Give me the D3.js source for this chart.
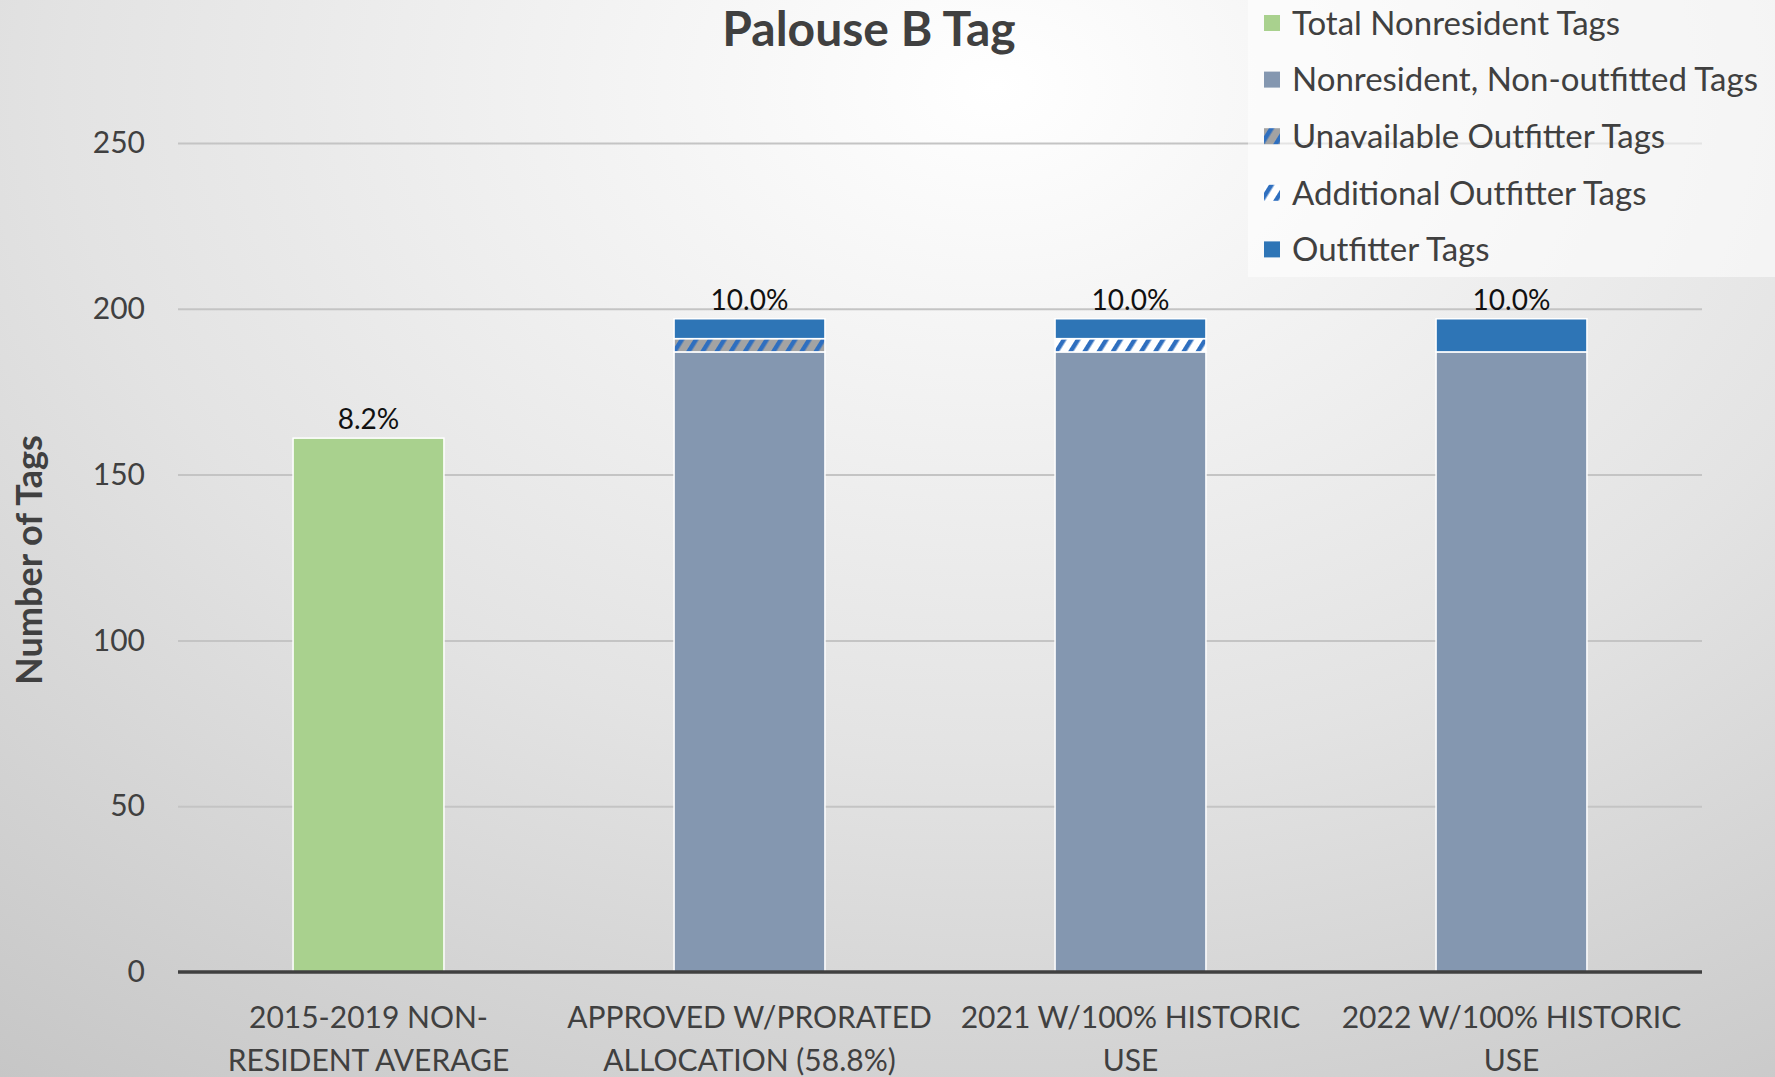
<!DOCTYPE html>
<html>
<head>
<meta charset="utf-8">
<script src="https://cdn.jsdelivr.net/npm/d3@7"></script>
<style>
  body { margin: 0; overflow: hidden; }
  svg { display: block; font-family: Lato, "Open Sans", sans-serif; }
</style>
</head>
<body>
<svg width="1775" height="1077"></svg>
<script>
var categories = [
  ["2015-2019 NON-", "RESIDENT AVERAGE"],
  ["APPROVED W/PRORATED", "ALLOCATION (58.8%)"],
  ["2021 W/100% HISTORIC", "USE"],
  ["2022 W/100% HISTORIC", "USE"]
];
var totalNonresident = [161, 0, 0, 0];
var nonOutfitted = [0, 187, 187, 187];
var unavailableOutfitter = [0, 4, 0, 0];
var additionalOutfitter = [0, 0, 4, 0];
var outfitterTags = [0, 6, 6, 10];
var pctLabels = ["8.2%", "10.0%", "10.0%", "10.0%"];
var yTicks = [0, 50, 100, 150, 200, 250];
var seriesNames = ["Total Nonresident Tags", "Nonresident, Non-outfitted Tags",
  "Unavailable Outfitter Tags", "Additional Outfitter Tags", "Outfitter Tags"];

var svg = d3.select('svg');
var width = +svg.attr('width');
var height = +svg.attr('height');

var plotLeft = 178, plotRight = 1702, plotTop = 143, plotBottom = 972;

// background
var defs = svg.append('defs');
var bg = defs.append('radialGradient').attr('id', 'bg')
  .attr('cx', '0.56').attr('cy', '0.08').attr('r', '0.95')
  .attr('gradientTransform', 'translate(0.56,0.08) scale(1,1.2) translate(-0.56,-0.08)');
bg.append('stop').attr('offset', '0').attr('stop-color', '#ffffff');
bg.append('stop').attr('offset', '0.55').attr('stop-color', '#e3e3e3');
bg.append('stop').attr('offset', '1').attr('stop-color', '#c6c6c6');
svg.append('rect').attr('width', width).attr('height', height).attr('fill', 'url(#bg)');

function hatch(id, back) {
  var p = defs.append('pattern').attr('id', id)
    .attr('patternUnits', 'userSpaceOnUse')
    .attr('width', 12).attr('height', 12)
    .attr('patternTransform', 'rotate(32)');
  p.append('rect').attr('width', 12).attr('height', 12).attr('fill', back);
  p.append('rect').attr('width', 4.5).attr('height', 12).attr('fill', '#2f6fbf');
}
hatch('hatchGray', '#a3a3a3');
hatch('hatchWhite', '#ffffff');

var colors = ['#a9d18e', '#8497b0', 'url(#hatchGray)', 'url(#hatchWhite)', '#2e75b6'];

var rows = categories.map(function(c, i) {
  return {
    i: i,
    s0: totalNonresident[i],
    s1: nonOutfitted[i],
    s2: unavailableOutfitter[i],
    s3: additionalOutfitter[i],
    s4: outfitterTags[i]
  };
});
var keys = ['s0', 's1', 's2', 's3', 's4'];
var stacked = d3.stack().keys(keys)(rows);

var x = d3.scaleBand()
  .domain(d3.range(categories.length))
  .range([plotLeft, plotRight])
  .paddingInner(0.604)
  .paddingOuter(0.302);
var y = d3.scaleLinear().domain([0, 250]).range([plotBottom, plotTop]);

// grid + y labels
var yAxis = svg.append('g').attr('transform', 'translate(' + plotLeft + ',0)')
  .call(d3.axisLeft(y).tickValues(yTicks).tickSize(-(plotRight - plotLeft)).tickPadding(33));
yAxis.select('.domain').remove();
yAxis.selectAll('.tick line').attr('stroke', '#c4c4c4').attr('stroke-width', 2);
yAxis.selectAll('.tick line').filter(function(d) { return d === 0; }).remove();
yAxis.selectAll('.tick text').attr('fill', '#404040').style('font-size', '30px')
  .style('font-family', 'Lato');

// bars
svg.append('g').selectAll('g')
  .data(stacked)
  .enter().append('g')
  .attr('fill', function(d, k) { return colors[k]; })
  .selectAll('rect')
  .data(function(d) { return d.filter(function(v) { return v[1] - v[0] > 0; }); })
  .enter().append('rect')
  .attr('x', function(d) { return x(d.data.i); })
  .attr('y', function(d) { return y(d[1]); })
  .attr('width', x.bandwidth())
  .attr('height', function(d) { return y(d[0]) - y(d[1]); })
  .attr('stroke', '#ffffff')
  .attr('stroke-width', 1.5);

// zero axis
svg.append('line').attr('x1', plotLeft).attr('x2', plotRight)
  .attr('y1', y(0)).attr('y2', y(0))
  .attr('stroke', '#404040').attr('stroke-width', 3.5);

// percent labels
svg.append('g').selectAll('text')
  .data(rows)
  .enter().append('text')
  .attr('x', function(d) { return x(d.i) + x.bandwidth() / 2; })
  .attr('y', function(d) { return y(d.s0 + d.s1 + d.s2 + d.s3 + d.s4) - 9; })
  .attr('text-anchor', 'middle')
  .attr('fill', '#111')
  .style('font-size', '28px')
  .text(function(d, i) { return pctLabels[i]; });

// category labels
var xAxis = svg.append('g').attr('transform', 'translate(0,' + plotBottom + ')')
  .call(d3.axisBottom(x).tickSize(0).tickFormat(''));
xAxis.select('.domain').remove();
xAxis.selectAll('.tick text').each(function(d) {
  var t = d3.select(this).attr('y', 0).attr('dy', null)
    .attr('fill', '#404040').style('font-size', '30px').style('font-family', 'Lato');
  categories[d].forEach(function(line, j) {
    t.append('tspan').attr('x', 0).attr('y', 56 + j * 43).text(line);
  });
});

// y title
svg.append('text')
  .attr('transform', 'translate(42,' + 560 + ') rotate(-90)')
  .attr('text-anchor', 'middle')
  .attr('fill', '#404040')
  .style('font-size', '36px').style('font-weight', 'bold')
  .text('Number of Tags');

// title
svg.append('text')
  .attr('x', 869).attr('y', 46)
  .attr('text-anchor', 'middle')
  .attr('fill', '#404040')
  .style('font-size', '48px').style('font-weight', 'bold')
  .text('Palouse B Tag');

// legend
var legend = svg.append('g');
legend.append('rect').attr('x', 1248).attr('y', 0).attr('width', width - 1248).attr('height', 277)
  .attr('fill', '#ffffff').attr('opacity', 0.55);
var item = legend.selectAll('g.item')
  .data(seriesNames)
  .enter().append('g').attr('class', 'item')
  .attr('transform', function(d, i) { return 'translate(1264,' + (23 + i * 56.6) + ')'; });
item.append('rect').attr('x', 0).attr('y', -8).attr('width', 16).attr('height', 16)
  .attr('fill', function(d, i) { return colors[i]; });
item.append('text').attr('x', 28).attr('dy', '0.36em')
  .attr('fill', '#404040').style('font-size', '33px')
  .text(function(d) { return d; });
</script>
</body>
</html>
